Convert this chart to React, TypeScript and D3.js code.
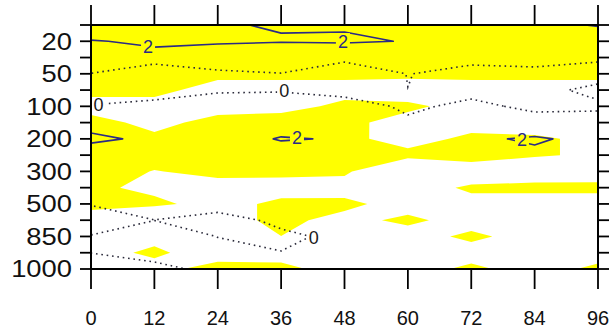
import React, { useEffect, useRef } from "react";
import * as d3 from "d3";

// forecast hours (columns) and pressure levels (rows, surface first)
const hours = [0, 12, 24, 36, 48, 60, 72, 84, 96];
const levels = [1000, 925, 850, 700, 500, 400, 300, 250, 200, 150, 100, 70, 50, 30, 20, 10];
const labelledLevels = [1000, 850, 500, 300, 200, 100, 50, 20];

// contoured field (lines at 0 and 2), one row per level, 1000 hPa first
const lineRows = [
    [-1, -0.5, 0.5, 0.5, 1.0, 1.0, 1.0, 1.0, 1.0],
    [0.02, 0.66, 0.47, 0.053, 1.0, 1.0, 1.0, 1.0, 1.0],
    [0.05, 1.0, -0.03, -0.43, 0.5, 1.0, 1.0, 1.0, 1.0],
    [-0.5, -0.02, -0.92, 0.5, 1.0, 1.0, 1.0, 1.0, 1.0],
    [0.05, 1.0, 1.0, 1.2, 1.2, 1.2, 1.2, 1.2, 1.2],
    [0.8, 1.0, 1.0, 1.0, 1.0, 1.0, 1.0, 1.0, 1.0],
    [1.0, 1.0, 1.0, 1.0, 1.0, 1.0, 1.0, 1.0, 1.0],
    [1.15, 1.2, 1.2, 1.3, 1.2, 1.0, 1.0, 1.75, 1.0],
    [2.3, 1.7, 1.3, 2.1, 1.9, 1.5, 1.8, 2.15, 1.63],
    [1.47, 1.2, 1.2, 1.3, 1.2, 0.44, 0.9, 1.11, 0.5],
    [0.1, 0.96, 1.37, 1.83, 1.33, -0.5, 0.65, -0.6, -0.2],
    [-1, -1.5, -0.3, -0.25, -1, -0.022, -0.8, -0.35, 0.3],
    [-0.05, -2.46, -0.45, -0.05, -3.09, 0.1, -1.17, -0.58, -0.5],
    [1.5, 1.64, 1.51, 1.2, 1.2, 1.0, 1.0, 0.8, 0.19],
    [1.925, 2.2, 2.1, 2.05, 2.1, 1.97, 1.6, 1.6, 1.5],
    [3.0, 2.5, 2.05, 1.95, 1.925, 1.5, 1.5, 1.8, 2.05],
];

// shaded field, yellow where >= 0
const shadeRows = [
    [-1, -1, 1.2, 1, -1.6, -1, 0.5, -1, 0.5],
    [-1, 0.5, -1.5, -1.5, -1, -1, -1, -1, -1],
    [-1, -0.75, -1, -0.02, -1, -1, 0.5, -1, -1],
    [-1.67, -3, -0.9, 0.55, -0.72, 0.5, -1, -1, -1],
    [1, 0.5, -0.9, 0.55, 0.5625, -1, -0.65, -1.94, -1.94],
    [0.44, -0.52, -0.75, -1, -1, -1, 0.333, 1, 1],
    [1, -0.087, 0.5, 0.6, 0.4, -3, -1.38, -2.2, -1.94],
    [1, 1, 1, 1, 1, 0.71, 1, 0.3, -0.45],
    [1, 0.58, 1, 1, 0.6, -0.94, 0.52, 0.29, -0.435],
    [0.94, -0.8, 0.89, 1.44, 0.6, -0.93, -0.93, -0.93, -1],
    [-1.06, -0.94, -1, -1, 0.63, 0.5, -0.93, -1, -1],
    [0.8, 0.71, -0.98, -0.98, -0.98, -1.42, -1, -1, -1],
    [1, 1, 0.6, 0.6, 0.6, 0.6, 0.6, 0.6, 0.6],
    [1, 1, 1, 1, 1, 1, 1, 1, 1],
    [1, 1, 1, 1, 1, 1, 1, 1, 1],
    [1, 1, 1, 1, 1, 1, 1, 1, 1],
];

// in-line contour labels (hour, fractional level index)
const lineLabels = [
    { hour: 10.8, lev: 13.65, text: "2" },
    { hour: 47.7, lev: 13.95, text: "2" },
    { hour: 1.4, lev: 10.08, text: "0" },
    { hour: 36.6, lev: 10.92, text: "0" },
    { hour: 39.0, lev: 8.05, text: "2" },
    { hour: 81.6, lev: 7.93, text: "2" },
    { hour: 42.2, lev: 1.92, text: "0" },
];

const W = 610;
const H = 328;
const FONT = "'Liberation Sans', Arial, Helvetica, sans-serif";

const App = () => {
    const svgRef = useRef(null);

    useEffect(() => {
        const svg = d3.select(svgRef.current);
        svg.selectAll("*").remove();

        const x = d3.scaleLinear().domain([0, 96]).range([91, 598]);
        const y = d3.scaleLinear().domain([0, levels.length - 1]).range([269, 25]);

        const step = hours[1] - hours[0];
        const nx = hours.length;
        const ny = levels.length;

        // contour grid coords -> pixels (grid value i sits at i + 0.5)
        const proj = d3.geoTransform({
            point: function (px, py) {
                this.stream.point(x((px - 0.5) * step), y(py - 0.5));
            },
        });
        const path = d3.geoPath(proj);
        const contours = d3.contours().size([nx, ny]);

        const defs = svg.append("defs");
        defs.append("clipPath")
            .attr("id", "plotClip")
            .append("rect")
            .attr("x", x(0))
            .attr("y", y(ny - 1))
            .attr("width", x(96) - x(0))
            .attr("height", y(0) - y(ny - 1));

        const mask = defs.append("mask")
            .attr("id", "lblMask")
            .attr("maskUnits", "userSpaceOnUse")
            .attr("x", 0).attr("y", 0).attr("width", W).attr("height", H);
        mask.append("rect").attr("width", W).attr("height", H).attr("fill", "white");
        mask.selectAll("rect.hole")
            .data(lineLabels)
            .join("rect")
            .attr("class", "hole")
            .attr("x", (d) => x(d.hour) - 7)
            .attr("y", (d) => y(d.lev) - 9)
            .attr("width", 14)
            .attr("height", 18)
            .attr("fill", "black");

        const plot = svg.append("g").attr("clip-path", "url(#plotClip)");

        // yellow shading
        plot.append("path")
            .attr("d", path(contours.thresholds([0])(shadeRows.flat())[0]))
            .attr("fill", "#ffff00")
            .attr("fill-rule", "evenodd");

        const lines = plot.append("g").attr("mask", "url(#lblMask)");
        const flatLines = lineRows.flat();

        // zero contour, dotted
        lines.append("path")
            .attr("d", path(contours.thresholds([0])(flatLines)[0]))
            .attr("fill", "none")
            .attr("stroke", "#2a2a3a")
            .attr("stroke-width", 1.6)
            .attr("stroke-dasharray", "1.6 3.8");

        // contour 2, solid navy
        lines.append("path")
            .attr("d", path(contours.thresholds([2])(flatLines)[0]))
            .attr("fill", "none")
            .attr("stroke", "#2b2b85")
            .attr("stroke-width", 1.6)
            .attr("stroke-linejoin", "round");

        svg.append("g")
            .selectAll("text")
            .data(lineLabels)
            .join("text")
            .attr("x", (d) => x(d.hour))
            .attr("y", (d) => y(d.lev))
            .attr("text-anchor", "middle")
            .attr("dominant-baseline", "central")
            .attr("font-family", FONT)
            .attr("font-size", 18)
            .attr("fill", (d) => (d.text === "2" ? "#2b2b85" : "#1a1a1a"))
            .text((d) => d.text);

        // frame
        svg.append("rect")
            .attr("x", x(0))
            .attr("y", y(ny - 1))
            .attr("width", x(96) - x(0))
            .attr("height", y(0) - y(ny - 1))
            .attr("fill", "none")
            .attr("stroke", "#000")
            .attr("stroke-width", 2);

        const ticks = svg.append("g").attr("stroke", "#000").attr("stroke-width", 1.8);
        const levIdx = d3.range(ny);
        ticks.selectAll("line.l")
            .data(levIdx)
            .join("line")
            .attr("class", "l")
            .attr("x1", x(0) - 11).attr("x2", x(0))
            .attr("y1", (d) => y(d)).attr("y2", (d) => y(d));
        ticks.selectAll("line.r")
            .data(levIdx)
            .join("line")
            .attr("class", "r")
            .attr("x1", x(96)).attr("x2", x(96) + 11)
            .attr("y1", (d) => y(d)).attr("y2", (d) => y(d));
        ticks.selectAll("line.b")
            .data(hours)
            .join("line")
            .attr("class", "b")
            .attr("x1", (d) => x(d)).attr("x2", (d) => x(d))
            .attr("y1", y(0)).attr("y2", y(0) + 20);
        ticks.selectAll("line.t")
            .data(hours)
            .join("line")
            .attr("class", "t")
            .attr("x1", (d) => x(d)).attr("x2", (d) => x(d))
            .attr("y1", y(ny - 1)).attr("y2", y(ny - 1) - 20);

        // y tick labels (pressure)
        svg.append("g")
            .selectAll("text")
            .data(labelledLevels)
            .join("text")
            .attr("transform", (d) => `translate(72,${y(levels.indexOf(d))}) scale(1.14,1)`)
            .attr("text-anchor", "end")
            .attr("dominant-baseline", "central")
            .attr("font-family", FONT)
            .attr("font-size", 24)
            .attr("fill", "#111")
            .text((d) => d);

        // x tick labels (hours)
        svg.append("g")
            .selectAll("text")
            .data(hours)
            .join("text")
            .attr("x", (d) => x(d))
            .attr("y", 325)
            .attr("text-anchor", "middle")
            .attr("font-family", FONT)
            .attr("font-size", 20)
            .attr("fill", "#111")
            .text((d) => d);
    }, []);

    return (
        <svg
            ref={svgRef}
            width={W}
            height={H}
            style={{ position: "absolute", left: 0, top: 0, background: "#fff" }}
        ></svg>
    );
};

export default App;
